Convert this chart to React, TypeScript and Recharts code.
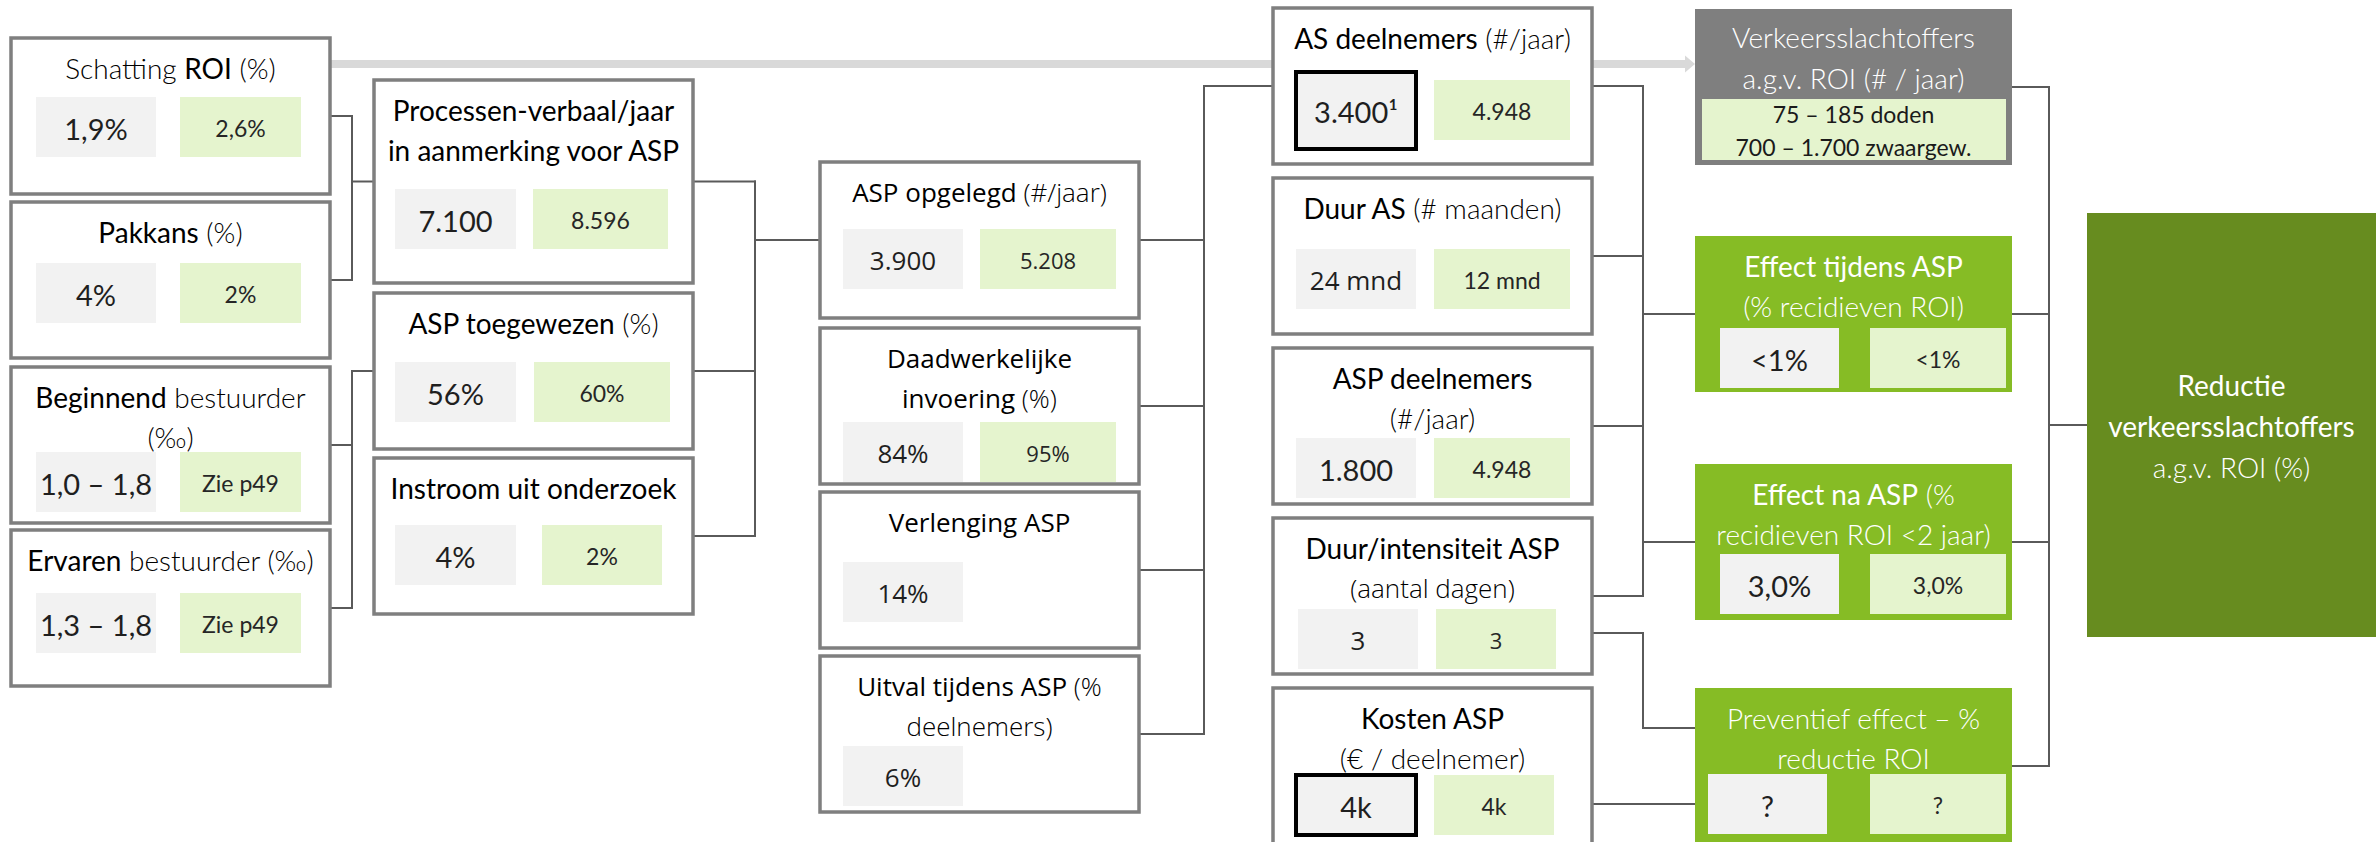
import React from 'react'
import { ScatterChart, Scatter, XAxis, YAxis, ReferenceLine } from 'recharts'

const W = 2379
const H = 842

// --- values ---
const nodeIds = [
  'roi', 'pakkans', 'beginnend', 'ervaren',
  'pv', 'toegewezen', 'instroom',
  'opgelegd', 'invoering', 'verlenging', 'uitval',
  'as', 'duurAs', 'aspDeel', 'intensiteit', 'kosten',
  'slachtoffers', 'effTijdens', 'effNa', 'preventief',
  'reductie',
]

// *text* = normal weight, the rest is light
const titleLines: string[][] = [
  ['Schatting *ROI* (%)'],
  ['*Pakkans* (%)'],
  ['*Beginnend* bestuurder', '(‰)'],
  ['*Ervaren* bestuurder (‰)'],
  ['*Processen-verbaal/jaar*', '*in aanmerking voor ASP*'],
  ['*ASP toegewezen* (%)'],
  ['*Instroom uit onderzoek*'],
  ['*ASP opgelegd* (#/jaar)'],
  ['*Daadwerkelijke*', '*invoering* (%)'],
  ['*Verlenging ASP*'],
  ['*Uitval tijdens ASP* (%', 'deelnemers)'],
  ['*AS deelnemers* (#/jaar)'],
  ['*Duur AS* (# maanden)'],
  ['*ASP deelnemers*', '(#/jaar)'],
  ['*Duur/intensiteit ASP*', '(aantal dagen)'],
  ['*Kosten ASP*', '(€ / deelnemer)'],
  ['Verkeersslachtoffers', 'a.g.v. ROI (# / jaar)'],
  ['*Effect tijdens ASP*', '(% recidieven ROI)'],
  ['*Effect na ASP* (%', 'recidieven ROI <2 jaar)'],
  ['Preventief effect – %', 'reductie ROI'],
  ['*Reductie*', '*verkeersslachtoffers*', 'a.g.v. ROI (%)'],
]

const currentValues = [
  '1,9%', '4%', '1,0 – 1,8', '1,3 – 1,8',
  '7.100', '56%', '4%',
  '3.900', '84%', '14%', '6%',
  '3.400¹', '24 mnd', '1.800', '3', '4k',
  '', '<1%', '3,0%', '?',
  '',
]

const scenarioValues = [
  '2,6%', '2%', 'Zie p49', 'Zie p49',
  '8.596', '60%', '2%',
  '5.208', '95%', '', '',
  '4.948', '12 mnd', '4.948', '3', '4k',
  '', '<1%', '3,0%', '?',
  '',
]

const casualtyRanges = ['75 – 185 doden', '700 – 1.700 zwaargew.']

// --- layout (diagram units = pixels) ---
type Box = {
  left: number; top: number; w: number; h: number
  kind: 'white' | 'gray' | 'green' | 'dark'
  cellTop?: number
  gx?: number; gw?: number; sx?: number; sw?: number
  sans?: boolean; sansLines?: number[]
  graySans?: boolean; greenSans?: boolean
  boxed?: boolean; boxedTop?: number; boxedH?: number
  titleTop?: number; titleStep?: number
}

const colLeft = [11, 374, 820, 1273, 1695]
const BW = 319
const BH = 156
const c1 = { gx: 25, gw: 120, sx: 169, sw: 121 }
const c5 = { gx: 25, gw: 119, sx: 175, sw: 136 }

const layout: Record<string, Box> = {
  roi: { left: colLeft[0], top: 38, w: BW, h: BH, kind: 'white', cellTop: 59, ...c1 },
  pakkans: { left: colLeft[0], top: 202, w: BW, h: BH, kind: 'white', cellTop: 61, ...c1 },
  beginnend: { left: colLeft[0], top: 367, w: BW, h: BH, kind: 'white', cellTop: 85, ...c1 },
  ervaren: { left: colLeft[0], top: 530, w: BW, h: BH, kind: 'white', cellTop: 63, ...c1 },
  pv: { left: colLeft[1], top: 80, w: BW, h: 203, kind: 'white', cellTop: 109, gx: 21, gw: 121, sx: 159, sw: 135 },
  toegewezen: { left: colLeft[1], top: 293, w: BW, h: BH, kind: 'white', cellTop: 69, gx: 21, gw: 121, sx: 160, sw: 136 },
  instroom: { left: colLeft[1], top: 458, w: BW, h: BH, kind: 'white', cellTop: 67, gx: 21, gw: 121, sx: 168, sw: 120 },
  opgelegd: { left: colLeft[2], top: 162, w: BW, h: BH, kind: 'white', cellTop: 67, sans: true, graySans: true, greenSans: true },
  invoering: { left: colLeft[2], top: 328, w: BW, h: BH, kind: 'white', cellTop: 94, sans: true, graySans: true, greenSans: true },
  verlenging: { left: colLeft[2], top: 492, w: BW, h: BH, kind: 'white', cellTop: 70, sans: true, graySans: true },
  uitval: { left: colLeft[2], top: 656, w: BW, h: BH, kind: 'white', cellTop: 90, sans: true, graySans: true },
  as: { left: colLeft[3], top: 8, w: BW, h: BH, kind: 'white', cellTop: 72, boxed: true, boxedTop: 64, boxedH: 77, sx: 161 },
  duurAs: { left: colLeft[3], top: 178, w: BW, h: BH, kind: 'white', cellTop: 71, graySans: true, sx: 161 },
  aspDeel: { left: colLeft[3], top: 348, w: BW, h: BH, kind: 'white', cellTop: 90, sx: 161 },
  intensiteit: { left: colLeft[3], top: 518, w: BW, h: BH, kind: 'white', cellTop: 91, sansLines: [1], graySans: true, greenSans: true, gx: 25, sx: 163, sw: 120 },
  kosten: { left: colLeft[3], top: 688, w: BW, h: BH, kind: 'white', cellTop: 87, boxed: true, sx: 161, sw: 120 },
  slachtoffers: { left: colLeft[4], top: 9, w: 317, h: BH, kind: 'gray', titleTop: 28, titleStep: 41 },
  effTijdens: { left: colLeft[4], top: 236, w: 317, h: BH, kind: 'green', cellTop: 92, ...c5 },
  effNa: { left: colLeft[4], top: 464, w: 317, h: BH, kind: 'green', cellTop: 90, ...c5 },
  preventief: { left: colLeft[4], top: 688, w: 317, h: BH, kind: 'green', cellTop: 86, ...c5, gx: 13 },
  reductie: { left: 2087, top: 213, w: 289, h: 424, kind: 'dark', titleTop: 172, titleStep: 41 },
}

// connector groups: sources -> vertical bus -> targets, [id, offset] picks a port
type Port = string | [string, number]
const links: { bus: number; from: Port[]; to: Port[] }[] = [
  { bus: 352, from: ['roi', 'pakkans'], to: ['pv'] },
  { bus: 352, from: ['beginnend', 'ervaren'], to: ['toegewezen'] },
  { bus: 755, from: ['pv', 'toegewezen', 'instroom'], to: ['opgelegd'] },
  { bus: 1204, from: ['opgelegd', 'invoering', 'verlenging', 'uitval'], to: ['as'] },
  { bus: 1643, from: ['as', 'duurAs', 'aspDeel', 'intensiteit'], to: ['effTijdens', 'effNa'] },
  { bus: 1643, from: [['intensiteit', 115]], to: [['preventief', 40]] },
  { bus: 1643, from: [['kosten', 116]], to: [['preventief', 116]] },
  { bus: 2049, from: ['slachtoffers', 'effTijdens', 'effNa', 'preventief'], to: ['reductie'] },
]

// light grey arrow from ROI estimate to casualties, passing behind AS box
const roiArrow = { from: 'roi', to: 'slachtoffers', via: 'as', y: 64, head: 10, half: 8.5 }

const KIND_FILL = { white: '#ffffff', gray: '#7f7f7f', green: '#86bc25', dark: '#678c1f' }
const FONT_C = 'Lato, "Noto Sans", sans-serif'
const FONT_S = '"Open Sans", "Noto Sans", sans-serif'

type Seg = { x1: number; y1: number; x2: number; y2: number }

function portY(p: Port) {
  const [id, off] = typeof p === 'string' ? [p, undefined] : p
  const b = layout[id]
  return { id, y: b.top + (off ?? b.h / 2) }
}

const connectorSegs: Seg[] = []
links.forEach((g) => {
  const ys: number[] = []
  g.from.forEach((p) => {
    const { id, y } = portY(p)
    const b = layout[id]
    connectorSegs.push({ x1: b.left + b.w, y1: y, x2: g.bus, y2: y })
    ys.push(y)
  })
  g.to.forEach((p) => {
    const { id, y } = portY(p)
    connectorSegs.push({ x1: g.bus, y1: y, x2: layout[id].left, y2: y })
    ys.push(y)
  })
  const lo = Math.min(...ys)
  const hi = Math.max(...ys)
  if (hi > lo) connectorSegs.push({ x1: g.bus, y1: lo, x2: g.bus, y2: hi })
})

const arrowSegs: Seg[] = (() => {
  const a = layout[roiArrow.from]
  const v = layout[roiArrow.via]
  const t = layout[roiArrow.to]
  return [
    { x1: a.left + a.w, y1: roiArrow.y, x2: v.left, y2: roiArrow.y },
    { x1: v.left + v.w, y1: roiArrow.y, x2: t.left - roiArrow.head + 1, y2: roiArrow.y },
  ]
})()
const arrowTip = [{ x: layout[roiArrow.to].left - roiArrow.head / 2, y: roiArrow.y }]

const nodes = nodeIds.map((id, i) => {
  const b = layout[id]
  return {
    id,
    x: b.left + b.w / 2,
    y: b.top + b.h / 2,
    box: b,
    title: titleLines[i],
    cur: currentValues[i],
    alt: scenarioValues[i],
  }
})

function splitEmphasis(line: string) {
  return line
    .split('*')
    .map((text, i) => ({ text, em: i % 2 === 1 }))
    .filter((p) => p.text.length > 0)
}

function FlowNode(props: any) {
  const { cx, cy, payload } = props
  const n = payload
  const b: Box = n.box
  const left = cx - b.w / 2
  const top = cy - b.h / 2
  const mid = left + b.w / 2
  const titleFill = b.kind === 'white' ? '#000000' : '#ffffff'
  const lineTop = b.titleTop ?? 30
  const lineStep = b.titleStep ?? 40
  const ct = top + (b.cellTop ?? 66)
  const gx = left + (b.gx ?? 23)
  const gw = b.gw ?? 120
  const sx = left + (b.sx ?? 160)
  const sw = b.sw ?? 136
  const boxedTop = top + (b.boxedTop ?? b.cellTop ?? 66)
  const boxedH = b.boxedH ?? 60

  return (
    <g>
      <rect
        x={left}
        y={top}
        width={b.w}
        height={b.h}
        fill={KIND_FILL[b.kind]}
        stroke={b.kind === 'white' ? '#7f7f7f' : 'none'}
        strokeWidth={3.5}
      />
      {n.title.map((line: string, i: number) => {
        const sans = b.sans || (b.sansLines ?? []).includes(i)
        return (
          <text
            key={i}
            x={mid}
            y={top + lineTop + i * lineStep}
            textAnchor="middle"
            dominantBaseline="central"
            fontFamily={sans ? FONT_S : FONT_C}
            fontSize={sans ? 26 : 28}
            fill={titleFill}
            style={{ whiteSpace: 'pre' }}
          >
            {splitEmphasis(line).map((p, j) => (
              <tspan key={j} fontWeight={p.em ? 400 : 300}>
                {p.text}
              </tspan>
            ))}
          </text>
        )
      })}

      {n.id === 'slachtoffers' && (
        <g>
          <rect x={left + 7} y={top + 90} width={b.w - 13} height={61} fill="#e5f4ce" />
          {casualtyRanges.map((r, i) => (
            <text
              key={r}
              x={mid}
              y={top + 105 + i * 33}
              textAnchor="middle"
              dominantBaseline="central"
              fontFamily={FONT_C}
              fontSize={23}
              fontWeight={400}
              fill="#1a1a1a"
            >
              {r}
            </text>
          ))}
        </g>
      )}

      {n.cur && (
        <g>
          {b.boxed ? (
            <rect x={gx} y={boxedTop} width={gw} height={boxedH} fill="#f2f2f2" stroke="#000" strokeWidth={4} />
          ) : (
            <rect x={gx} y={ct} width={gw} height={60} fill="#f2f2f2" />
          )}
          <text
            x={gx + gw / 2}
            y={(b.boxed ? boxedTop + boxedH / 2 : ct + 30) + 1}
            textAnchor="middle"
            dominantBaseline="central"
            fontFamily={b.graySans ? FONT_S : FONT_C}
            fontSize={b.graySans ? 26 : 29}
            fontWeight={400}
            fill="#1f1f1f"
          >
            {n.cur}
          </text>
        </g>
      )}

      {n.alt && (
        <g>
          <rect x={sx} y={ct} width={sw} height={60} fill="#e5f4ce" />
          <text
            x={sx + sw / 2}
            y={ct + 31}
            textAnchor="middle"
            dominantBaseline="central"
            fontFamily={b.greenSans ? FONT_S : FONT_C}
            fontSize={b.greenSans ? 22 : 23}
            fontWeight={400}
            fill="#262626"
          >
            {n.alt}
          </text>
        </g>
      )}
    </g>
  )
}

function ArrowHead(props: any) {
  const { cx, cy } = props
  const h = roiArrow.head / 2
  const s = roiArrow.half
  return <polygon points={`${cx - h},${cy - s} ${cx + h},${cy} ${cx - h},${cy + s}`} fill="#d9d9d9" />
}

export default function App() {
  return (
    <div style={{ position: 'absolute', left: 0, top: 0, width: W, height: H, background: '#ffffff' }}>
      <ScatterChart width={W} height={H} margin={{ top: 0, right: 0, bottom: 0, left: 0 }}>
        <XAxis type="number" dataKey="x" domain={[0, W]} allowDataOverflow hide />
        <YAxis type="number" dataKey="y" domain={[0, H]} allowDataOverflow reversed hide />

        {arrowSegs.map((s, i) => (
          <ReferenceLine
            key={`arrow-${i}`}
            segment={[{ x: s.x1, y: s.y1 }, { x: s.x2, y: s.y2 }]}
            stroke="#d9d9d9"
            strokeWidth={8}
          />
        ))}
        {connectorSegs.map((s, i) => (
          <ReferenceLine
            key={`link-${i}`}
            segment={[{ x: s.x1, y: s.y1 }, { x: s.x2, y: s.y2 }]}
            stroke="#5a5a5a"
            strokeWidth={2}
            strokeLinecap="square"
          />
        ))}

        <Scatter data={arrowTip} shape={ArrowHead} isAnimationActive={false} />
        <Scatter data={nodes} shape={FlowNode} isAnimationActive={false} />
      </ScatterChart>
    </div>
  )
}
